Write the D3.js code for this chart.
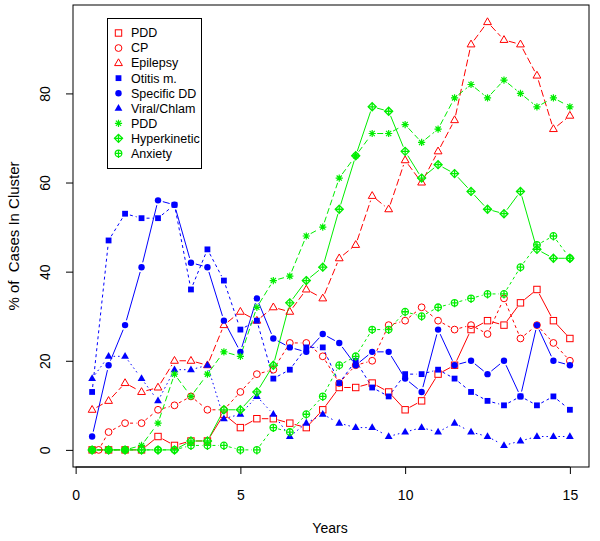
<!DOCTYPE html>
<html><head><meta charset="utf-8">
<script src="https://cdn.jsdelivr.net/npm/d3@7"></script>
<style>body{margin:0;background:#fff}svg{display:block;font-family:"Liberation Sans",Arial,Helvetica,sans-serif}</style>
</head><body><svg id="c" width="600" height="541"></svg>
<script>
const years = [0.5,1,1.5,2,2.5,3,3.5,4,4.5,5,5.5,6,6.5,7,7.5,8,8.5,9,9.5,10,10.5,11,11.5,12,12.5,13,13.5,14,14.5,15];
const cpYears = [0.7,1,1.5,2,2.5,3,3.5,4,4.5,5,5.5,6,6.5,7,7.5,8,8.5,9,9.5,10,10.5,11,11.5,12,12.5,13,13.5,14,14.5,15];

const pddRed      = [0,0,0,0,3,1,2,2,8,5,7,7,6,5,9,14,14,15,13,9,11,17,19,27,29,28,33,36,29,25];
const cp          = [0,4,6,6,9,10,12,9,9,13,17,18,24,24,21,15,19,20,28,29,32,29,27,28,26,34,25,28,24,20];
const epilepsy    = [9,11,15,13,14,20,20,19,28,31,29,32,31,36,34,43,46,57,54,65,60,67,74,91,96,92,91,84,72,75];
const otitis      = [13,47,53,52,52,55,36,45,38,27,29,16,18,23,23,15,20,14,12,17,17,18,16,13,11,10,12,10,12,9];
const specificDD  = [3,19,28,41,56,55,42,41,29,22,34,25,23,22,26,24,19,22,22,16,13,27,19,20,17,20,12,28,20,19];
const viral       = [16,21,21,16,11,18,18,19,7,8,12,8,3,6,8,6,5,5,3,4,5,4,6,4,3,1,2,3,3,3];
const pddGreen    = [0,0,0,1,6,17,12,17,22,21,32,38,39,48,50,61,66,71,71,73,69,72,79,82,79,83,80,77,79,77];
const hyperkinetic= [0,0,0,0,0,0,2,2,9,9,13,19,33,38,41,54,66,77,76,67,61,64,62,58,54,53,58,45,43,43];
const anxiety     = [0,0,0,0,0,0,1,1,1,0,0,5,4,8,12,19,21,27,27,31,30,32,33,34,35,35,41,46,48,43];

const legendLabels = ["PDD","CP","Epilepsy","Otitis m.","Specific DD","Viral/Chlam","PDD","Hyperkinetic","Anxiety"];
const xTicks = [0,5,10,15];
const yTicks = [0,20,40,60,80];

const RED="#ff0000", BLUE="#0000ff", GREEN="#00ee00";
const series = [
  {vals:pddRed, xs:years, color:RED, shape:"sqOpen", dash:null},
  {vals:cp, xs:cpYears, color:RED, shape:"circOpen", dash:"3,3"},
  {vals:epilepsy, xs:years, color:RED, shape:"triOpen", dash:"7,3"},
  {vals:otitis, xs:years, color:BLUE, shape:"sqFill", dash:"3,3"},
  {vals:specificDD, xs:years, color:BLUE, shape:"circFill", dash:null},
  {vals:viral, xs:years, color:BLUE, shape:"triFill", dash:"1.5,3"},
  {vals:pddGreen, xs:years, color:GREEN, shape:"star", dash:"6,3"},
  {vals:hyperkinetic, xs:years, color:GREEN, shape:"diamPlus", dash:null},
  {vals:anxiety, xs:years, color:GREEN, shape:"circPlus", dash:"3,3"}
];

const svg = d3.select("#c");
const L=73, R=589, T=5, B=467;
const x = d3.scaleLinear().domain([-0.08,15.58]).range([L,R]);
const y = d3.scaleLinear().domain([-3.84,99.84]).range([B,T]);

function sym(g, shape, cx, cy, c){
  const s = g.append("g").attr("transform",`translate(${cx},${cy})`);
  switch(shape){
    case "sqOpen": s.append("rect").attr("x",-3.2).attr("y",-3.2).attr("width",6.4).attr("height",6.4).attr("fill","none").attr("stroke",c).attr("stroke-width",1); break;
    case "circOpen": s.append("circle").attr("r",3.4).attr("fill","none").attr("stroke",c).attr("stroke-width",1); break;
    case "triOpen": s.append("path").attr("d","M0,-4.3L3.9,2.5L-3.9,2.5Z").attr("fill","none").attr("stroke",c).attr("stroke-width",1); break;
    case "sqFill": s.append("rect").attr("x",-2.9).attr("y",-2.9).attr("width",5.8).attr("height",5.8).attr("fill",c); break;
    case "circFill": s.append("circle").attr("r",3.2).attr("fill",c); break;
    case "triFill": s.append("path").attr("d","M0,-4.3L3.9,2.5L-3.9,2.5Z").attr("fill",c); break;
    case "star": s.append("path").attr("d","M-3.6,0H3.6M0,-3.6V3.6M-2.6,-2.6L2.6,2.6M-2.6,2.6L2.6,-2.6").attr("stroke",c).attr("stroke-width",1.2).attr("fill","none"); break;
    case "diamPlus": s.append("path").attr("d","M0,-4L4,0L0,4L-4,0Z").attr("fill","none").attr("stroke",c).attr("stroke-width",1.3);
      s.append("path").attr("d","M-4,0H4M0,-4V4").attr("stroke",c).attr("stroke-width",1.3); break;
    case "circPlus": s.append("circle").attr("r",3.3).attr("fill","none").attr("stroke",c).attr("stroke-width",1.3);
      s.append("path").attr("d","M-3.3,0H3.3M0,-3.3V4.5").attr("stroke",c).attr("stroke-width",1.3); break;
  }
}

// lines (type = "b": segments with gaps at points)
const gap = 5;
const lineG = svg.append("g");
series.forEach(s=>{
  const pts = s.vals.map((v,i)=>[x(s.xs[i]), y(v)]);
  const segs = [];
  for(let i=0;i<pts.length-1;i++){
    const [x1,y1]=pts[i],[x2,y2]=pts[i+1];
    const dx=x2-x1, dy=y2-y1, len=Math.hypot(dx,dy);
    if(len>2*gap+0.5){const ux=dx/len, uy=dy/len; segs.push([x1+ux*gap,y1+uy*gap,x2-ux*gap,y2-uy*gap]);}
  }
  lineG.selectAll(null).data(segs).enter().append("line")
    .attr("x1",d=>d[0]).attr("y1",d=>d[1]).attr("x2",d=>d[2]).attr("y2",d=>d[3])
    .attr("stroke",s.color).attr("stroke-width",1).attr("stroke-dasharray",s.dash);
});
const ptG = svg.append("g");
series.forEach(s=>{ s.vals.forEach((v,i)=>sym(ptG, s.shape, x(s.xs[i]), y(v), s.color)); });

// box
svg.append("rect").attr("x",L).attr("y",T).attr("width",R-L).attr("height",B-T).attr("fill","none").attr("stroke","#000").attr("stroke-width",1);

// axes
const xa = svg.append("g").attr("transform",`translate(0,${B})`).call(d3.axisBottom(x).tickValues(xTicks).tickSize(7).tickFormat(d3.format("d")));
xa.select(".domain").remove();
svg.append("line").attr("x1",x(0)).attr("x2",x(15)).attr("y1",B).attr("y2",B).attr("stroke","#000");
xa.selectAll("text").attr("y",28).attr("dy","0.35em").attr("font-size",14).attr("font-family","Liberation Sans, Arial, sans-serif").attr("fill","#000");
xa.selectAll("line").attr("stroke","#000");

const ya = svg.append("g").attr("transform",`translate(${L},0)`).call(d3.axisLeft(y).tickValues(yTicks).tickSize(7).tickFormat(d3.format("d")));
ya.select(".domain").remove();
ya.selectAll("line").attr("stroke","#000");
ya.selectAll("text").attr("x",null).attr("dy","0.35em").attr("text-anchor","middle")
  .attr("transform","translate(-28,0) rotate(-90)").attr("font-size",14).attr("font-family","Liberation Sans, Arial, sans-serif").attr("fill","#000");

svg.append("text").attr("x",330).attr("y",528).attr("dy","0.35em").attr("text-anchor","middle").attr("font-size",14).text("Years");
svg.append("text").attr("transform","translate(14,236) rotate(-90)").attr("dy","0.35em").attr("text-anchor","middle")
  .attr("font-size",15).style("white-space","pre").text("% of  Cases In Cluster");

// legend
const lg = svg.append("g");
lg.append("rect").attr("x",107.5).attr("y",18.5).attr("width",94).attr("height",150).attr("fill","#fff").attr("stroke","#000").attr("stroke-width",1);
series.forEach((s,i)=>{
  const cy = 33 + i*15.05;
  sym(lg, s.shape, 118.5, cy, s.color);
  lg.append("text").attr("x",131).attr("y",cy).attr("dy","0.35em").attr("font-size",12.5).text(legendLabels[i]);
});
</script></body></html>
